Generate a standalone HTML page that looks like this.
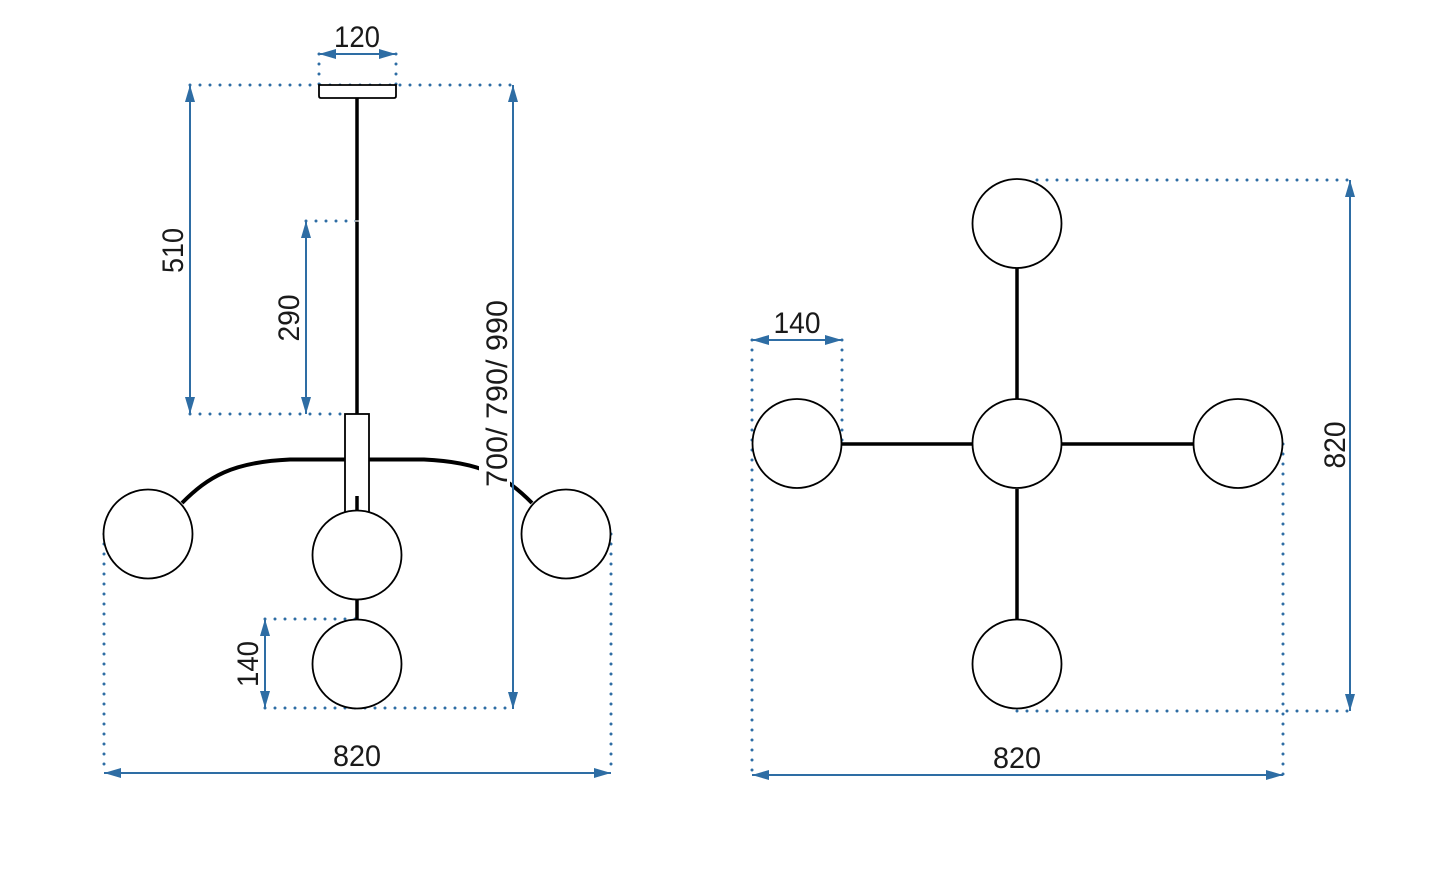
<!DOCTYPE html>
<html><head><meta charset="utf-8"><style>
html,body{margin:0;padding:0;background:#fff;}
svg{display:block;}
text{font-family:"Liberation Sans",sans-serif;font-size:30px;fill:#1a1a1a;}
</style></head><body>
<svg width="1445" height="891" viewBox="0 0 1445 891" xmlns="http://www.w3.org/2000/svg">
<rect width="1445" height="891" fill="#fff"/>
<g stroke="#2e6da4" stroke-width="3" stroke-linecap="round" stroke-dasharray="0 10" fill="none">
  <!-- left view dotted -->
  <line x1="319" y1="54" x2="319" y2="85"/>
  <line x1="396" y1="54" x2="396" y2="85"/>
  <line x1="190" y1="85" x2="513" y2="85"/>
  <line x1="190" y1="414" x2="345" y2="414"/>
  <line x1="306" y1="221" x2="357" y2="221"/>
  <line x1="265" y1="619" x2="357" y2="619"/>
  <line x1="265" y1="708" x2="513" y2="708"/>
  <line x1="104" y1="534" x2="104" y2="773"/>
  <line x1="611" y1="534" x2="611" y2="773"/>
  <!-- right view dotted -->
  <line x1="752" y1="340" x2="752" y2="775"/>
  <line x1="842" y1="340" x2="842" y2="444"/>
  <line x1="1037" y1="180" x2="1350" y2="180"/>
  <line x1="1017" y1="711" x2="1350" y2="711"/>
  <line x1="1283" y1="444" x2="1283" y2="775"/>
</g>
<g stroke="#2e6da4" stroke-width="2" fill="none">
  <line x1="319" y1="54" x2="396" y2="54"/>
  <line x1="190" y1="85" x2="190" y2="414"/>
  <line x1="306" y1="221" x2="306" y2="414"/>
  <line x1="513" y1="85" x2="513" y2="709"/>
  <line x1="265" y1="619" x2="265" y2="708"/>
  <line x1="104" y1="773" x2="611" y2="773"/>
  <line x1="752" y1="340" x2="842" y2="340"/>
  <line x1="1350" y1="180" x2="1350" y2="711"/>
  <line x1="752" y1="775" x2="1283" y2="775"/>
</g>
<g fill="#2e6da4">
  <!-- 120 -->
  <polygon points="319,54 336,49 336,59"/><polygon points="396,54 379,49 379,59"/>
  <!-- 510 -->
  <polygon points="190,85 185,102 195,102"/><polygon points="190,414 185,397 195,397"/>
  <!-- 290 -->
  <polygon points="306,221 301,238 311,238"/><polygon points="306,414 301,397 311,397"/>
  <!-- 700 -->
  <polygon points="513,85 508,102 518,102"/><polygon points="513,709 508,692 518,692"/>
  <!-- 140 left -->
  <polygon points="265,619 260,636 270,636"/><polygon points="265,708 260,691 270,691"/>
  <!-- 820 left -->
  <polygon points="104,773 121,768 121,778"/><polygon points="611,773 594,768 594,778"/>
  <!-- 140 right -->
  <polygon points="752,340 769,335 769,345"/><polygon points="842,340 825,335 825,345"/>
  <!-- 820 vertical right -->
  <polygon points="1350,180 1345,197 1355,197"/><polygon points="1350,711 1345,694 1355,694"/>
  <!-- 820 bottom right -->
  <polygon points="752,775 769,770 769,780"/><polygon points="1283,775 1266,770 1266,780"/>
</g>

<!-- LEFT VIEW lamp -->
<g stroke="#000" fill="none">
  <line x1="357" y1="98" x2="357" y2="414" stroke-width="3.5"/>
  <path d="M182,503 C208,477 232,462 290,459.5 L345,459.5" stroke-width="4"/>
  <path d="M532,503 C506,477 482,462 424,459.5 L369,459.5" stroke-width="4"/>
  <line x1="357" y1="600" x2="357" y2="619" stroke-width="3.5"/>
</g>
<line x1="355" y1="221" x2="359" y2="221" stroke="#fff" stroke-width="1.2"/>
<path d="M319,85 L396,85 L396,96 Q396,98 394,98 L321,98 Q319,98 319,96 Z" fill="#fff" stroke="#000" stroke-width="1.8"/>
<rect x="345" y="414" width="24" height="98" fill="#fff" stroke="#000" stroke-width="1.8"/>
<line x1="357" y1="496" x2="357" y2="512" stroke="#000" stroke-width="3.5"/>
<g fill="#fff" stroke="#000" stroke-width="1.8">
  <circle cx="148" cy="534" r="44.5"/>
  <circle cx="566" cy="534" r="44.5"/>
  <circle cx="357" cy="555" r="44.5"/>
  <circle cx="357" cy="664" r="44.5"/>
</g>
<!-- white box behind 700 label -->
<rect x="479" y="296" width="31" height="194" fill="#fff"/>
<line x1="513" y1="290" x2="513" y2="500" stroke="#2e6da4" stroke-width="2"/>

<!-- RIGHT VIEW lamp -->
<g stroke="#000" stroke-width="3.5">
  <line x1="842" y1="444" x2="972" y2="444"/>
  <line x1="1062" y1="444" x2="1193" y2="444"/>
  <line x1="1017" y1="268" x2="1017" y2="399"/>
  <line x1="1017" y1="489" x2="1017" y2="619"/>
</g>
<g fill="#fff" stroke="#000" stroke-width="1.8">
  <circle cx="1017" cy="223.5" r="44.5"/>
  <circle cx="797" cy="443.5" r="44.5"/>
  <circle cx="1017" cy="443.5" r="44.5"/>
  <circle cx="1238" cy="443.5" r="44.5"/>
  <circle cx="1017" cy="664" r="44.5"/>
</g>

<!-- labels -->
<text x="357" y="47" text-anchor="middle" textLength="46" lengthAdjust="spacingAndGlyphs">120</text>
<text transform="translate(183,250.5) rotate(-90)" text-anchor="middle" textLength="45" lengthAdjust="spacingAndGlyphs">510</text>
<text transform="translate(299,318) rotate(-90)" text-anchor="middle" textLength="47" lengthAdjust="spacingAndGlyphs">290</text>
<text transform="translate(507,393.5) rotate(-90)" text-anchor="middle" textLength="187" lengthAdjust="spacingAndGlyphs">700/ 790/ 990</text>
<text transform="translate(258,664) rotate(-90)" text-anchor="middle" textLength="46" lengthAdjust="spacingAndGlyphs">140</text>
<text x="357" y="766" text-anchor="middle" textLength="48" lengthAdjust="spacingAndGlyphs">820</text>
<text x="797" y="333" text-anchor="middle" textLength="47" lengthAdjust="spacingAndGlyphs">140</text>
<text transform="translate(1345,445) rotate(-90)" text-anchor="middle" textLength="47" lengthAdjust="spacingAndGlyphs">820</text>
<text x="1017" y="768" text-anchor="middle" textLength="48" lengthAdjust="spacingAndGlyphs">820</text>
</svg>
</body></html>
